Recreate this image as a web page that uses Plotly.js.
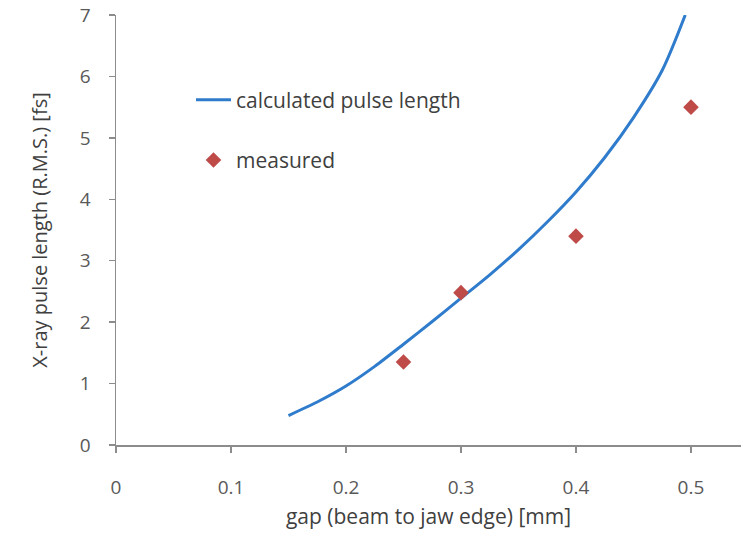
<!DOCTYPE html>
<html>
<head>
<meta charset="utf-8">
<script src="https://cdn.plot.ly/plotly-3.0.1.min.js"></script>
<style>html,body{margin:0;padding:0;background:#fff;}#chart{width:743px;height:538px;}</style>
</head>
<body>
<div id="chart"></div>
<script>
// Calculated pulse length curve
const calcGap = [0.15, 0.175, 0.2, 0.225, 0.25, 0.275, 0.3, 0.325, 0.35, 0.375, 0.4, 0.425, 0.45, 0.475, 0.495];
const calcLength = [0.48, 0.7, 0.96, 1.28, 1.64, 2.01, 2.39, 2.77, 3.18, 3.63, 4.12, 4.68, 5.33, 6.1, 7.0];
// Measured points
const measGap = [0.25, 0.3, 0.4, 0.5];
const measLength = [1.35, 2.48, 3.4, 5.5];
// Ticks
const xTicks = [0, 0.1, 0.2, 0.3, 0.4, 0.5];
const xTickText = ['0', '0.1', '0.2', '0.3', '0.4', '0.5'];
const yTicks = [0, 1, 2, 3, 4, 5, 6, 7];

const FONT = 'Open Sans, Noto Sans, sans-serif';
const traces = [
  {x: calcGap, y: calcLength, type: 'scatter', mode: 'lines', name: 'calculated pulse length',
   line: {color: '#2f7bcc', width: 3, shape: 'spline', smoothing: 0.8}, legendgroup: 'a'},
  {x: measGap, y: measLength, type: 'scatter', mode: 'markers', name: 'measured',
   marker: {symbol: 'diamond', size: 12, color: '#be4b48'}, legendgroup: 'b'}
];
const axisCommon = {
  showgrid: false, zeroline: false, showline: true, linecolor: '#8c8c8c', linewidth: 1.5,
  ticks: 'outside', ticklen: 6, tickcolor: '#8c8c8c', tickwidth: 1.5,
  tickfont: {family: FONT, size: 19, color: '#595959'}
};
const layout = {
  width: 743, height: 538,
  margin: {l: 116, r: 2, t: 15, b: 93},
  paper_bgcolor: '#fff', plot_bgcolor: '#fff',
  showlegend: true,
  legend: {x: 0.12, y: 0.85, xanchor: 'left', yanchor: 'top', bgcolor: 'rgba(0,0,0,0)',
           font: {family: FONT, size: 21, color: '#404040'}, traceorder: 'grouped', tracegroupgap: 30,
           itemwidth: 35},
  xaxis: Object.assign({}, axisCommon, {
    range: [0, 0.5435], tickvals: xTicks, ticktext: xTickText, ticklabelstandoff: 19,
    title: {text: 'gap (beam to jaw edge) [mm]', font: {family: FONT, size: 21, color: '#404040'}, standoff: 10}
  }),
  yaxis: Object.assign({}, axisCommon, {
    range: [0, 7], tickvals: yTicks, ticklabelstandoff: 14,
    title: {text: 'X-ray pulse length (R.M.S.) [fs]', font: {family: FONT, size: 20, color: '#404040'}, standoff: 27}
  })
};
Plotly.newPlot('chart', traces, layout, {displayModeBar: false, staticPlot: true});
</script>
</body>
</html>
